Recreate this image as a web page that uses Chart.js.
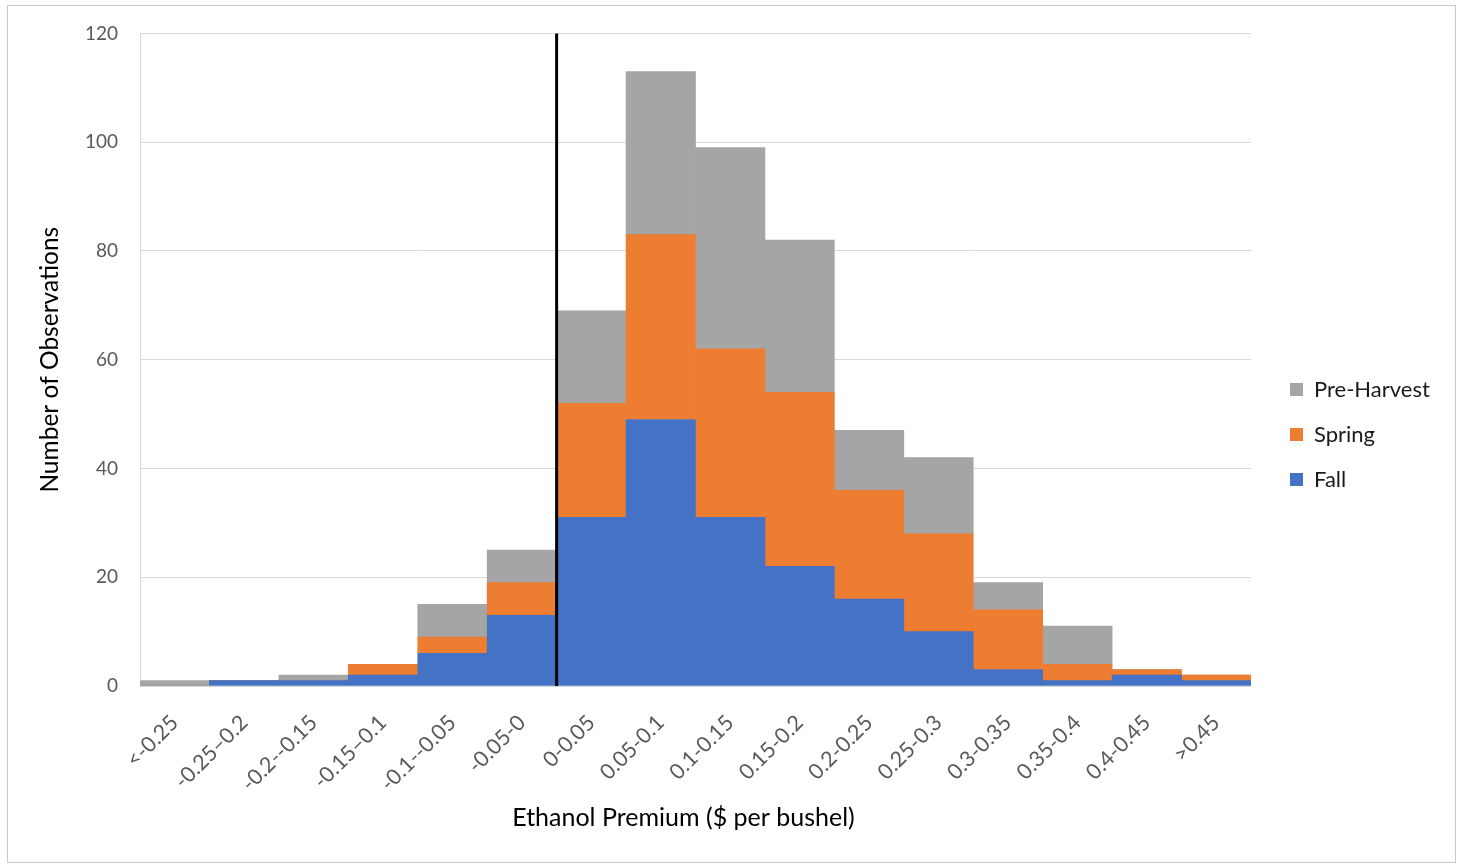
<!DOCTYPE html>
<html>
<head>
<meta charset="utf-8">
<script src="https://cdn.jsdelivr.net/npm/chart.js@4.4.1/dist/chart.umd.min.js"></script>
<style>
  html, body { margin: 0; padding: 0; background: #fff; }
  #wrap { position: relative; width: 1461px; height: 867px; }
  #frame { position: absolute; left: 7px; top: 5px; width: 1447px; height: 856px; border: 1px solid #c9c9c9; pointer-events: none; }
  canvas { position: absolute; left: 0; top: 0; }
</style>
</head>
<body>
<div id="wrap">
  <canvas id="c" width="1461" height="867"></canvas>
  <div id="frame"></div>
</div>
<script>
const categories = ["<-0.25", "-0.25\u20130.2", "-0.2--0.15", "-0.15\u20130.1", "-0.1--0.05", "-0.05-0",
  "0-0.05", "0.05-0.1", "0.1-0.15", "0.15-0.2", "0.2-0.25", "0.25-0.3", "0.3-0.35", "0.35-0.4", "0.4-0.45", ">0.45"];
const fallValues       = [0, 1, 1, 2, 6, 13, 31, 49, 31, 22, 16, 10, 3, 1, 2, 1];
const springValues     = [0, 0, 0, 2, 3, 6, 21, 34, 31, 32, 20, 18, 11, 3, 1, 1];
const preHarvestValues = [1, 0, 1, 0, 6, 6, 17, 30, 37, 28, 11, 14, 5, 7, 0, 0];
const yTicks = [0, 20, 40, 60, 80, 100, 120];
const zeroBoundaryAfter = "-0.05-0";

const FONT = "Lato, 'Open Sans', sans-serif";

const layoutPlugin = {
  id: 'layoutTweaks',
  beforeUpdate(chart) {
    const lg = chart.legend;
    if (lg && !lg._patched) {
      const origFit = lg.fit;
      lg.fit = function () {
        origFit.call(this);
        this.width = 210;
      };
      lg._patched = true;
    }
  },
  afterLayout(chart) {
    const lg = chart.legend;
    if (lg) { lg.left += 16; lg.right += 16; lg.top -= 10; lg.bottom -= 10; }
    const xs = chart.scales.x;
    if (xs && !xs._titlePatched) {
      const origDrawTitle = xs.drawTitle;
      xs.drawTitle = function () {
        const ctx = this.ctx;
        ctx.save();
        ctx.translate(-12, 0);
        origDrawTitle.apply(this, arguments);
        ctx.restore();
      };
      xs._titlePatched = true;
    }
  },
  afterDatasetsDraw(chart) {
    const xs = chart.scales.x, ys = chart.scales.y;
    const i = categories.indexOf(zeroBoundaryAfter);
    const x = (xs.getPixelForTick(i) + xs.getPixelForTick(i + 1)) / 2;
    const ctx = chart.ctx;
    ctx.save();
    ctx.strokeStyle = '#000';
    ctx.lineWidth = 3;
    ctx.beginPath();
    ctx.moveTo(x, ys.getPixelForValue(yTicks[yTicks.length - 1]));
    ctx.lineTo(x, ys.getPixelForValue(0));
    ctx.stroke();
    ctx.restore();
  }
};

new Chart(document.getElementById('c'), {
  type: 'bar',
  data: {
    labels: categories,
    datasets: [
      { label: 'Fall', data: fallValues, backgroundColor: '#4472C4', borderWidth: 0 },
      { label: 'Spring', data: springValues, backgroundColor: '#ED7D31', borderWidth: 0 },
      { label: 'Pre-Harvest', data: preHarvestValues, backgroundColor: '#A5A5A5', borderWidth: 0 }
    ]
  },
  options: {
    responsive: false,
    animation: false,
    devicePixelRatio: 1,
    layout: { padding: { left: 0, right: 0, top: 22, bottom: 0 } },
    datasets: { bar: { barPercentage: 1, categoryPercentage: 1 } },
    plugins: {
      tooltip: { enabled: false },
      legend: {
        position: 'right',
        reverse: true,
        labels: {
          boxWidth: 13, boxHeight: 13, padding: 23,
          color: '#1a1a1a', font: { family: FONT, size: 22 }
        }
      }
    },
    scales: {
      x: {
        stacked: true,
        grid: { display: false, drawTicks: false },
        border: { display: true, color: '#d9d9d9', width: 1 },
        ticks: {
          autoSkip: false, maxRotation: 45, minRotation: 45, padding: 24,
          color: '#595959', font: { family: FONT, size: 21.5 }
        },
        title: {
          display: true, text: 'Ethanol Premium ($ per bushel)', color: '#000',
          font: { family: FONT, size: 25 }, padding: { top: 0, bottom: 34 }
        },
        afterFit(scale) { scale.height = 181; }
      },
      y: {
        stacked: true,
        min: 0, max: 120,
        afterBuildTicks(scale) { scale.ticks = yTicks.map(v => ({ value: v })); },
        grid: { color: '#d9d9d9', drawTicks: false },
        border: { display: true, color: '#d9d9d9', width: 1 },
        ticks: { padding: 22, color: '#595959', font: { family: FONT, size: 19 } },
        title: {
          display: true, text: 'Number of Observations', color: '#000',
          font: { family: FONT, size: 24.5 }, padding: { top: 35, bottom: 0 }
        },
        afterFit(scale) { scale.width = 140; }
      }
    }
  },
  plugins: [layoutPlugin]
});
</script>
</body>
</html>
